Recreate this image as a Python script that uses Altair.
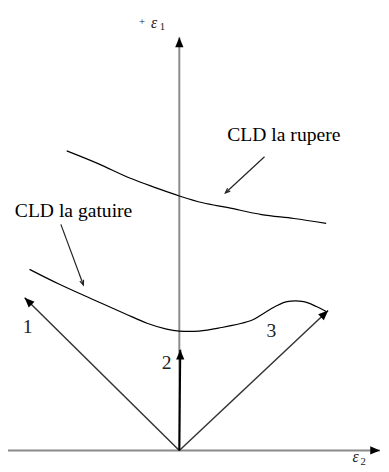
import altair as alt
import numpy as np
import pandas as pd

# Coordinates: e2 = horizontal strain (ε2), e1 = vertical strain (ε1); origin where the axes cross
upper_e2 = [-115, -83, -50, -23, 0, 24, 50, 84, 117, 150]
upper_e1 = [306, 293, 278, 268, 260, 253, 248, 241, 237, 232]
lower_e2 = [-153, -123, -90, -56, -33, -13, 0, 20, 40, 74, 86, 98, 110, 127, 140, 150]
lower_e1 = [185, 170, 155, 140, 130, 124, 122, 122, 125, 133, 140, 147, 152, 152, 147, 142]

vec_labels = ["1", "2", "3"]
vec_tip_e2 = [-158, 1, 152]
vec_tip_e1 = [156, 103, 143]
vec_label_e2 = [-155, -13, 94]
vec_label_e1 = [120, 83, 116]

axis_names = ["ε2", "ε1"]
axis_start_e2 = [-175, 0]
axis_start_e1 = [0, 0]
axis_tip_e2 = [205, 0]
axis_tip_e1 = [0, 422]

curve_labels = ["CLD la rupere", "CLD la gatuire"]
curve_label_e2 = [49, -168]
curve_label_e1 = [316, 239]
pointer_from_e2 = [87, -121]
pointer_from_e1 = [300, 231]
pointer_to_e2 = [47, -98]
pointer_to_e1 = [263, 169]

XD = [-175, 206]
YD = [-17, 447]
W, H = 381, 464

xs = alt.Scale(domain=XD, nice=False, zero=False)
ys = alt.Scale(domain=YD, nice=False, zero=False)


def X(f):
    return alt.X(f"{f}:Q", scale=xs, axis=None)


def Y(f):
    return alt.Y(f"{f}:Q", scale=ys, axis=None)


def heading(dx, dy):
    return (np.degrees(np.arctan2(np.array(dx, float), np.array(dy, float))) + 360) % 360


curves = pd.concat([
    pd.DataFrame({"e2": upper_e2, "e1": upper_e1, "curve": "rupere", "i": range(len(upper_e2))}),
    pd.DataFrame({"e2": lower_e2, "e1": lower_e1, "curve": "gatuire", "i": range(len(lower_e2))}),
])

vecs = pd.DataFrame({
    "name": vec_labels,
    "x0": 0, "y0": 0,
    "x1": vec_tip_e2, "y1": vec_tip_e1,
    "lx": vec_label_e2, "ly": vec_label_e1,
})
vecs["ang"] = heading(vecs.x1 - vecs.x0, vecs.y1 - vecs.y0)

axes = pd.DataFrame({
    "name": axis_names,
    "x0": axis_start_e2, "y0": axis_start_e1,
    "x1": axis_tip_e2, "y1": axis_tip_e1,
})
axes["ang"] = heading(axes.x1 - axes.x0, axes.y1 - axes.y0)

ptr = pd.DataFrame({
    "label": curve_labels,
    "tx": curve_label_e2, "ty": curve_label_e1,
    "x0": pointer_from_e2, "y0": pointer_from_e1,
    "x1": pointer_to_e2, "y1": pointer_to_e1,
})
ptr["ang"] = heading(ptr.x1 - ptr.x0, ptr.y1 - ptr.y0)

HEAD = "M0,0 L-0.42,1 L0.42,1 Z"
OPEN_HEAD = "M-0.4,1 L0,0 L0.4,1"
SERIF = "Liberation Serif"

axis_lines = alt.Chart(axes).mark_rule(color="#8a8a8a", strokeWidth=2).encode(
    x=X("x0"), y=Y("y0"), x2="x1:Q", y2="y1:Q")
axis_heads = alt.Chart(axes).mark_point(shape=HEAD, filled=True, color="#000000", opacity=1, size=400).encode(
    x=X("x1"), y=Y("y1"), angle=alt.Angle("ang:Q", scale=None))

vec_lines = alt.Chart(vecs).mark_rule(color="#333333", strokeWidth=1.5).encode(
    x=X("x0"), y=Y("y0"), x2="x1:Q", y2="y1:Q").transform_filter(alt.datum.name != "2")
vec2_line = alt.Chart(vecs).mark_rule(color="#000000", strokeWidth=2).encode(
    x=X("x0"), y=Y("y0"), x2="x1:Q", y2="y1:Q").transform_filter(alt.datum.name == "2")
vec_heads = alt.Chart(vecs).mark_point(shape=HEAD, filled=True, color="#000000", opacity=1, size=400).encode(
    x=X("x1"), y=Y("y1"), angle=alt.Angle("ang:Q", scale=None))
vec_text = alt.Chart(vecs).mark_text(font=SERIF, fontSize=20, color="#222222",
                                     align="center", baseline="alphabetic").encode(
    x=X("lx"), y=Y("ly"), text="name:N")

curve_lines = alt.Chart(curves).mark_line(color="#000000", strokeWidth=1.2, interpolate="catmull-rom").encode(
    x=X("e2"), y=Y("e1"), detail="curve:N", order="i:Q")

ptr_lines = alt.Chart(ptr).mark_rule(color="#222222", strokeWidth=1.2).encode(
    x=X("x0"), y=Y("y0"), x2="x1:Q", y2="y1:Q")
ptr_heads = alt.Chart(ptr).mark_point(shape=OPEN_HEAD, filled=False, color="#222222", opacity=1,
                                      size=100, strokeWidth=1.2).encode(
    x=X("x1"), y=Y("y1"), angle=alt.Angle("ang:Q", scale=None))
ptr_text = alt.Chart(ptr).mark_text(font=SERIF, fontSize=20, color="#000000",
                                    align="left", baseline="alphabetic").encode(
    x=X("tx"), y=Y("ty"), text="label:N")

# axis labels: ε with subscript digit, and a "+" before ε1
sym_text = pd.DataFrame({"t": ["ε", "ε"], "x": [-29, 177], "y": [432, -12]})
sub_text = pd.DataFrame({"t": ["1", "2"], "x": [-20, 185], "y": [429, -15]})
plus_text = pd.DataFrame({"t": ["+"], "x": [-38], "y": [435]})

eps = alt.Chart(sym_text).mark_text(font=SERIF, fontStyle="italic", fontSize=16,
                                    color="#222222", align="left", baseline="alphabetic").encode(
    x=X("x"), y=Y("y"), text="t:N")
subs = alt.Chart(sub_text).mark_text(font=SERIF, fontSize=11, color="#222222",
                                     align="left", baseline="alphabetic").encode(
    x=X("x"), y=Y("y"), text="t:N")
plus = alt.Chart(plus_text).mark_text(font=SERIF, fontSize=11, color="#222222",
                                      align="center", baseline="alphabetic").encode(
    x=X("x"), y=Y("y"), text="t:N")

chart = alt.layer(
    axis_lines, vec_lines, vec2_line, curve_lines, ptr_lines,
    axis_heads, vec_heads, ptr_heads, vec_text, ptr_text, eps, subs, plus,
).properties(
    width=W, height=H, padding=0, autosize=alt.AutoSizeParams(type="none"),
).configure_view(stroke=None)

chart.save("out.html", embed_options={"renderer": "svg", "actions": False})
